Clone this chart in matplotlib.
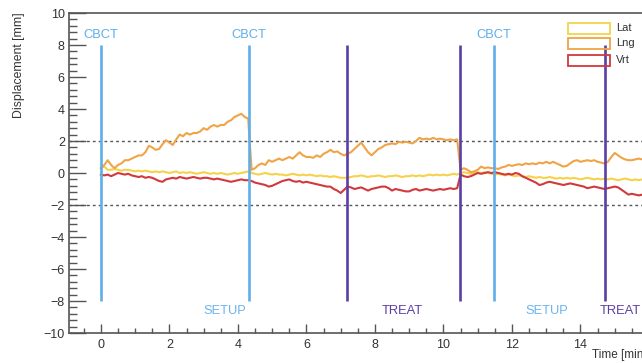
import matplotlib
matplotlib.use("Agg")
import matplotlib.pyplot as plt
from matplotlib.ticker import MultipleLocator, FixedLocator
from matplotlib.patches import Rectangle

plt.rcParams['font.family'] = ['Liberation Sans', 'DejaVu Sans']

# ---------------- data ----------------
time_min = [
    0.0, 0.1, 0.2, 0.3, 0.4, 0.5, 0.6, 0.7, 0.8, 0.9,
    1.0, 1.1, 1.2, 1.3, 1.4, 1.5, 1.6, 1.7, 1.8, 1.9,
    2.0, 2.1, 2.2, 2.3, 2.4, 2.5, 2.6, 2.7, 2.8, 2.9,
    3.0, 3.1, 3.2, 3.3, 3.4, 3.5, 3.6, 3.7, 3.8, 3.9,
    4.0, 4.1, 4.2, 4.3, 4.4, 4.5, 4.6, 4.7, 4.8, 4.9,
    5.0, 5.1, 5.2, 5.3, 5.4, 5.5, 5.6, 5.7, 5.8, 5.9,
    6.0, 6.1, 6.2, 6.3, 6.4, 6.5, 6.6, 6.7, 6.8, 6.9,
    7.0, 7.1, 7.2, 7.3, 7.4, 7.5, 7.6, 7.7, 7.8, 7.9,
    8.0, 8.1, 8.2, 8.3, 8.4, 8.5, 8.6, 8.7, 8.8, 8.9,
    9.0, 9.1, 9.2, 9.3, 9.4, 9.5, 9.6, 9.7, 9.8, 9.9,
    10.0, 10.1, 10.2, 10.3, 10.4, 10.5, 10.6, 10.7, 10.8, 10.9,
    11.0, 11.1, 11.2, 11.3, 11.4, 11.5, 11.6, 11.7, 11.8, 11.9,
    12.0, 12.1, 12.2, 12.3, 12.4, 12.5, 12.6, 12.7, 12.8, 12.9,
    13.0, 13.1, 13.2, 13.3, 13.4, 13.5, 13.6, 13.7, 13.8, 13.9,
    14.0, 14.1, 14.2, 14.3, 14.4, 14.5, 14.6, 14.7, 14.8, 14.9,
    15.0, 15.1, 15.2, 15.3, 15.4, 15.5, 15.6, 15.7, 15.8, 15.9,
]

lat = [
    0.3, 0.4, 0.2, 0.2, 0.25, 0.2, 0.15, 0.2, 0.2, 0.15,
    0.1, 0.15, 0.1, 0.15, 0.1, 0.05, 0.1, 0.05, 0.1, 0.05,
    0.0, 0.05, 0.1, 0.0, 0.05, 0.0, 0.05, 0.0, -0.05, 0.0,
    0.05, 0.0, -0.05, 0.0, -0.05, 0.0, -0.05, -0.1, -0.05, 0.0,
    -0.05, 0.0, 0.05, 0.1, 0.0, -0.05, -0.1, -0.05, 0.0, -0.05,
    -0.1, -0.05, -0.1, -0.1, -0.15, -0.1, -0.05, -0.1, -0.15, -0.1,
    -0.15, -0.1, -0.15, -0.2, -0.15, -0.2, -0.2, -0.25, -0.2, -0.25,
    -0.3, -0.3, -0.3, -0.25, -0.2, -0.2, -0.15, -0.2, -0.25, -0.2,
    -0.2, -0.15, -0.2, -0.25, -0.2, -0.2, -0.15, -0.2, -0.25, -0.2,
    -0.2, -0.15, -0.2, -0.15, -0.2, -0.15, -0.1, -0.15, -0.1, -0.15,
    -0.1, -0.15, -0.1, -0.05, -0.1, 0.0, 0.05, 0.0, -0.05, 0.0,
    0.05, 0.0, 0.05, 0.0, -0.05, -0.1, -0.05, -0.1, -0.15, -0.1,
    -0.15, -0.2, -0.15, -0.2, -0.25, -0.2, -0.25, -0.3, -0.25, -0.3,
    -0.3, -0.25, -0.3, -0.35, -0.3, -0.35, -0.3, -0.35, -0.3, -0.35,
    -0.4, -0.35, -0.3, -0.35, -0.4, -0.35, -0.4, -0.35, -0.4, -0.35,
    -0.4, -0.45, -0.4, -0.35, -0.4, -0.45, -0.4, -0.45, -0.4, -0.45,
]

lng = [
    0.3, 0.5, 0.8, 0.5, 0.3, 0.5, 0.6, 0.8, 0.8, 0.9,
    1.0, 1.1, 1.1, 1.3, 1.7, 1.6, 1.45, 1.5, 1.8, 2.05,
    1.9, 1.75, 2.1, 2.4, 2.3, 2.5, 2.4, 2.5, 2.5, 2.6,
    2.8, 2.7, 2.9, 3.0, 2.9, 3.0, 3.0, 3.2, 3.3, 3.5,
    3.6, 3.7, 3.5, 3.4, 0.2, 0.3, 0.5, 0.6, 0.5, 0.8,
    0.7, 0.8, 0.9, 0.8, 0.9, 1.0, 0.9, 1.1, 1.3, 1.1,
    1.0, 1.0, 0.95, 1.1, 1.0, 1.2, 1.3, 1.45, 1.3, 1.35,
    1.2, 1.1, 1.2, 1.3, 1.5, 1.7, 1.9, 1.6, 1.3, 1.1,
    1.3, 1.5, 1.6, 1.75, 1.8, 1.85, 1.8, 1.95, 1.9, 1.95,
    1.9, 1.85, 2.0, 2.2, 2.1, 2.15, 2.1, 2.2, 2.1, 2.15,
    2.1, 2.05, 2.1, 2.05, 2.1, 0.2, 0.3, 0.2, 0.05, 0.1,
    0.2, 0.4, 0.3, 0.35, 0.3, 0.3, 0.25, 0.35, 0.4, 0.5,
    0.45, 0.5, 0.55, 0.5, 0.6, 0.55, 0.6, 0.55, 0.65, 0.6,
    0.7, 0.6, 0.7, 0.6, 0.5, 0.4, 0.45, 0.6, 0.75, 0.8,
    0.7, 0.75, 0.8, 0.75, 0.8, 0.7, 0.65, 0.6, 0.7, 1.0,
    1.25, 1.1, 0.95, 0.85, 0.8, 0.8, 0.85, 0.9, 0.85, 0.8,
]

vrt = [
    -0.1, -0.15, -0.1, -0.2, -0.1, 0.0, -0.05, -0.1, -0.05, -0.15,
    -0.2, -0.25, -0.2, -0.3, -0.25, -0.3, -0.4, -0.5, -0.55, -0.4,
    -0.35, -0.3, -0.35, -0.25, -0.3, -0.35, -0.3, -0.25, -0.3, -0.35,
    -0.3, -0.3, -0.35, -0.4, -0.35, -0.4, -0.45, -0.5, -0.55, -0.5,
    -0.45, -0.4, -0.45, -0.45, -0.5, -0.6, -0.65, -0.7, -0.75, -0.85,
    -0.8, -0.7, -0.6, -0.5, -0.45, -0.4, -0.5, -0.55, -0.5, -0.6,
    -0.55, -0.6, -0.65, -0.7, -0.75, -0.8, -0.85, -0.85, -1.0, -1.1,
    -1.25, -1.05, -0.85, -0.9, -1.0, -0.95, -0.9, -1.0, -1.1, -1.0,
    -0.95, -0.9, -0.85, -0.85, -0.95, -1.1, -1.0, -1.05, -1.1, -1.15,
    -1.15, -1.05, -1.0, -1.1, -1.05, -1.0, -1.05, -1.1, -1.05, -1.0,
    -1.05, -1.0, -0.95, -1.0, -0.95, -0.1, -0.2, -0.25, -0.2, -0.1,
    0.0, -0.05, 0.0, 0.05, 0.0, 0.05, 0.0, -0.05, -0.1, -0.05,
    -0.1, 0.0, -0.05, -0.2, -0.3, -0.4, -0.5, -0.6, -0.75, -0.7,
    -0.6, -0.55, -0.6, -0.65, -0.7, -0.75, -0.7, -0.65, -0.7, -0.75,
    -0.8, -0.85, -0.95, -0.9, -0.85, -0.9, -0.95, -1.0, -0.95, -0.9,
    -0.85, -0.9, -1.05, -1.2, -1.35, -1.3, -1.35, -1.4, -1.35, -1.3,
]

series_names = ["Lat", "Lng", "Vrt"]
series_colors = ["#f6d24a", "#f0a445", "#d2383c"]

x_tick_values = [0, 2, 4, 6, 8, 10, 12, 14]
cbct_times = [0.0, 4.33, 11.47]
treat_edges = [7.18, 10.47, 14.72]
setup_labels_x = [3.62, 13.02]
treat_labels_x = [8.8, 15.15]
threshold = [2, -2]

blue = "#5eaeea"
purple = "#5b3fa6"

# ---------------- figure ----------------
W, H = 642, 363
fig = plt.figure(figsize=(W / 100, H / 100), dpi=100)
ax = fig.add_axes([69 / W, 30 / H, (649 - 69) / W, 320 / H])
ax.set_xlim(-0.93, 16.0)
ax.set_ylim(-10, 10)

for y in threshold:
    ax.axhline(y, color="#555555", lw=1.0, ls=(0, (2, 2.2)), zorder=1)

for vals, col in zip([lat, lng, vrt], series_colors):
    ax.plot(time_min, vals, color=col, lw=1.5, zorder=2)

for x in cbct_times:
    ax.vlines(x, -8, 8, color=blue, lw=1.9, zorder=3)
    ax.text(x, 8.65, "CBCT", color=blue, fontsize=9.3, ha="center", va="center")
for x in treat_edges:
    ax.vlines(x, -8, 8, color=purple, lw=1.9, zorder=3)
for x in setup_labels_x:
    ax.text(x, -8.65, "SETUP", color="#6cb4ee", fontsize=9.3, ha="center", va="center")
for x in treat_labels_x:
    ax.text(x, -8.65, "TREAT", color=purple, fontsize=9.3, ha="center", va="center")

# axes styling (ROOT-like)
for s in ["left", "bottom", "top", "right"]:
    ax.spines[s].set_color("#555555")
    ax.spines[s].set_linewidth(1.2)

ax.yaxis.set_major_locator(MultipleLocator(2))
ax.yaxis.set_minor_locator(MultipleLocator(0.4))
ax.xaxis.set_major_locator(FixedLocator(x_tick_values))
ax.xaxis.set_minor_locator(MultipleLocator(0.5))
ax.tick_params(axis="y", which="major", direction="in", length=12, width=1.0,
               color="#555555", labelcolor="#333333", labelsize=9, pad=3)
ax.tick_params(axis="y", which="minor", direction="in", length=6, width=1.0, color="#555555")
ax.tick_params(axis="x", which="major", direction="in", length=6.5, width=1.0,
               color="#555555", labelcolor="#333333", labelsize=9, pad=4)
ax.tick_params(axis="x", which="minor", direction="in", length=3.3, width=1.0, color="#555555")

fig.text(19 / W, 1 - 12 / H, "Displacement [mm]", rotation=90, ha="center", va="top",
         fontsize=8.8, color="#333333")
fig.text(647 / W, 1 - 355 / H, "Time [min]", ha="right", va="center",
         fontsize=8.5, color="#333333")

# legend (ROOT-style open boxes)
box_rows = [28, 43.5, 60]
for name, col, yc in zip(series_names, series_colors, box_rows):
    fig.patches.append(Rectangle((568 / W, 1 - (yc + 5.5) / H), 42 / W, 11 / H,
                                 transform=fig.transFigure, fill=False,
                                 edgecolor=col, lw=1.3, zorder=5))
    fig.text(616 / W, 1 - yc / H, name, ha="left", va="center", fontsize=8,
             color="#333333")

fig.savefig("out.png", dpi=100)
